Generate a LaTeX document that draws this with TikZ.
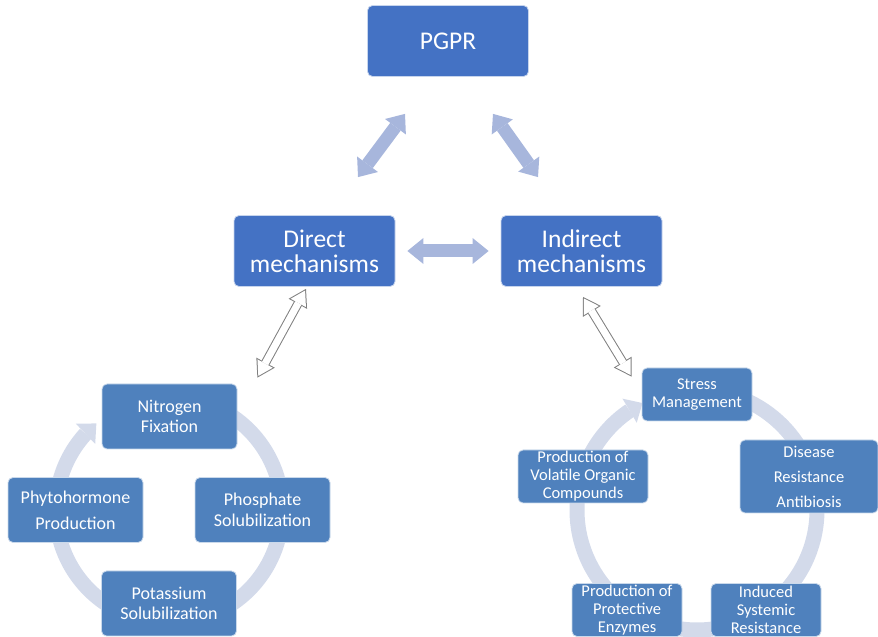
\documentclass[tikz,border=0pt]{standalone}
\usepackage{fontspec}
\setmainfont{Carlito}
\usetikzlibrary{arrows.meta,bending,positioning,calc}
\definecolor{pgblue}{HTML}{4472C4}
\definecolor{cycblue}{HTML}{4F81BD}
\definecolor{fatblue}{HTML}{A7B6DC}
\definecolor{ringgray}{HTML}{D3DAEA}
\definecolor{edgegray}{HTML}{7F7F7F}

\begin{document}
\begin{tikzpicture}[x=1pt,y=1pt,
  topbox/.style={draw=white!70!pgblue, line width=0.8pt, fill=pgblue, rounded corners=5pt, text=white, align=center,
    minimum width=161pt, minimum height=71pt, inner sep=2pt, font=\fontsize{25.5}{25}\selectfont},
  lbox/.style={draw=white!70!cycblue, line width=0.8pt, fill=cycblue, rounded corners=5pt, text=white, align=center,
    minimum width=135pt, minimum height=65pt, inner sep=2pt, font=\fontsize{18}{20.5}\selectfont},
  rbox/.style={draw=white!70!cycblue, line width=0.8pt, fill=cycblue, rounded corners=5pt, text=white, align=center,
    minimum width=110pt, minimum height=53pt, inner sep=1pt, font=\fontsize{16.5}{18}\selectfont},
  ring/.style={draw=ringgray, line width=15pt, -{Triangle[width=28pt,length=15pt,line width=0pt]}},
  fatarr/.style={draw=fatblue, line width=13pt,
    {Triangle[width=26pt,length=16pt,line width=0pt]}-{Triangle[width=26pt,length=16pt,line width=0pt]}},
  hollowarr/.style={draw=edgegray, line width=9pt,
    {Triangle[width=21pt,length=17pt,line width=0pt]}-{Triangle[width=21pt,length=17pt,line width=0pt]},
    postaction={draw=white, line width=7pt, shorten <=1.9pt, shorten >=1.9pt,
      {Triangle[width=17.4pt,length=14.1pt,line width=0pt]}-{Triangle[width=17.4pt,length=14.1pt,line width=0pt]}}}
]
  \useasboundingbox (0,0) rectangle (878,637);

  % the two cycles
  \coordinate (lctr) at (169,127);
  \coordinate (rctr) at (697,127);
  \draw[ring] ($(lctr)+(90:113)$) arc[start angle=90, end angle=-230, radius=113];
  \draw[ring] ($(rctr)+(90:120)$) arc[start angle=90, end angle=-243, radius=120];

  % top level
  \node[topbox] (pgpr) at (448,596) {PGPR};
  \node[topbox] (direct) at (314.5,386) {Direct\\mechanisms};
  \node[topbox] (indirect) at (581.5,386) {Indirect\\mechanisms};

  % direct mechanisms
  \node[lbox] (nitro) at (169.5,220.5) {Nitrogen\\Fixation};
  \node[lbox, font=\fontsize{18}{26}\selectfont] (phyto) at (75.5,127) {Phytohormone\\Production};
  \node[lbox] (phos) at (262.5,127) {Phosphate\\Solubilization};
  \node[lbox] (potas) at (169,33.5) {Potassium\\Solubilization};

  % indirect mechanisms
  \node[rbox] (stress) at (697,242.5) {Stress\\Management};
  \node[rbox, minimum width=138pt, minimum height=73pt, font=\fontsize{16.5}{25}\selectfont] (disease) at (809,160.5) {Disease\\Resistance\\Antibiosis};
  \node[rbox] (isr) at (766,27) {Induced\\Systemic\\Resistance};
  \node[rbox] (enzyme) at (627,27) {Production of\\Protective\\Enzymes};
  \node[rbox, minimum width=130pt] (voc) at (583,160.5) {Production of\\Volatile Organic\\Compounds};

  \draw[fatarr] ([shift={(43.5,38)}]direct.north) -- ([shift={(-43,-37)}]pgpr.south);
  \draw[fatarr] ([shift={(45,-37)}]pgpr.south) -- ([shift={(-43.5,38)}]indirect.north);
  \draw[fatarr] ([xshift=12]direct.east) -- ([xshift=-12]indirect.west);

  \draw[hollowarr] ([shift={(20,6)}]nitro.north east) -- ([shift={(-8.5,-2)}]direct.south);
  \draw[hollowarr] ([shift={(1.5,-10)}]indirect.south) -- ([shift={(-10,-9)}]stress.north west);
\end{tikzpicture}
\end{document}
